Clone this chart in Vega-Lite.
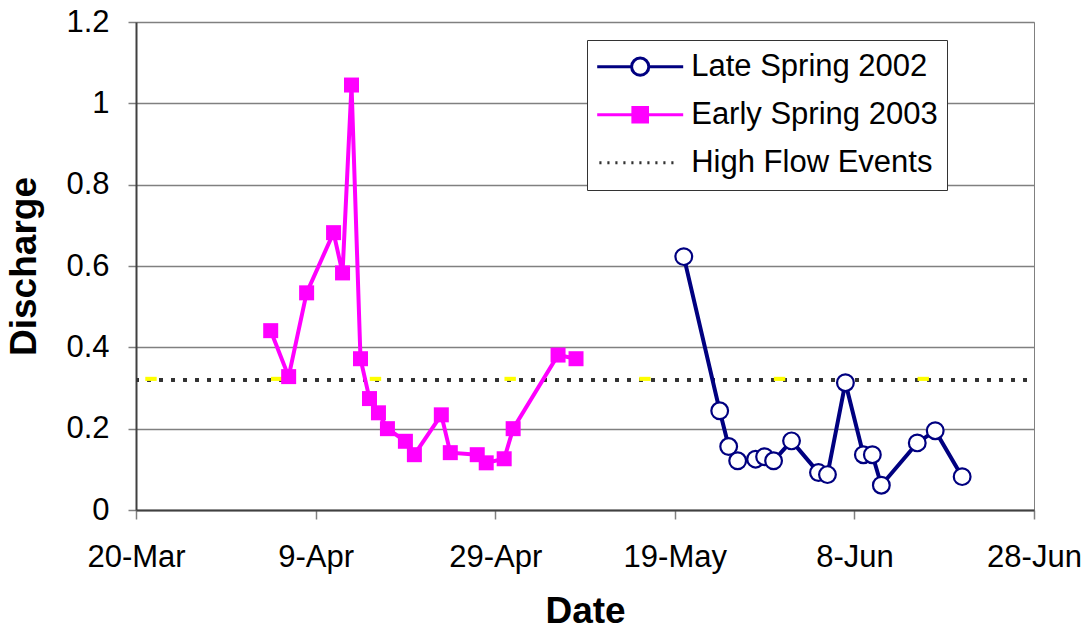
{
  "$schema": "https://vega.github.io/schema/vega-lite/v6.json",
  "width": 898,
  "height": 488,
  "autosize": {"type": "none"},
  "padding": {"left": 136, "top": 22, "right": 55, "bottom": 121},
  "background": "white",
  "config": {
    "font": "Liberation Sans",
    "view": {"stroke": "#808080", "strokeWidth": 1}
  },
  "data": {
    "values": [
      {"series": "Early Spring 2003", "date": "2003-04-04T00:00", "value": 0.441},
      {"series": "Early Spring 2003", "date": "2003-04-06T00:00", "value": 0.328},
      {"series": "Early Spring 2003", "date": "2003-04-08T00:00", "value": 0.534},
      {"series": "Early Spring 2003", "date": "2003-04-11T00:00", "value": 0.682},
      {"series": "Early Spring 2003", "date": "2003-04-12T00:00", "value": 0.583},
      {"series": "Early Spring 2003", "date": "2003-04-13T00:00", "value": 1.045},
      {"series": "Early Spring 2003", "date": "2003-04-14T00:00", "value": 0.372},
      {"series": "Early Spring 2003", "date": "2003-04-15T00:00", "value": 0.274},
      {"series": "Early Spring 2003", "date": "2003-04-16T00:00", "value": 0.239},
      {"series": "Early Spring 2003", "date": "2003-04-17T00:00", "value": 0.2},
      {"series": "Early Spring 2003", "date": "2003-04-19T00:00", "value": 0.169},
      {"series": "Early Spring 2003", "date": "2003-04-20T00:00", "value": 0.136},
      {"series": "Early Spring 2003", "date": "2003-04-23T00:00", "value": 0.234},
      {"series": "Early Spring 2003", "date": "2003-04-24T00:00", "value": 0.141},
      {"series": "Early Spring 2003", "date": "2003-04-27T00:00", "value": 0.136},
      {"series": "Early Spring 2003", "date": "2003-04-28T00:00", "value": 0.116},
      {"series": "Early Spring 2003", "date": "2003-04-30T00:00", "value": 0.126},
      {"series": "Early Spring 2003", "date": "2003-05-01T00:00", "value": 0.2},
      {"series": "Early Spring 2003", "date": "2003-05-06T00:00", "value": 0.381},
      {"series": "Early Spring 2003", "date": "2003-05-08T00:00", "value": 0.372},
      {"series": "Late Spring 2002", "date": "2003-05-20T00:00", "value": 0.623},
      {"series": "Late Spring 2002", "date": "2003-05-24T00:00", "value": 0.244},
      {"series": "Late Spring 2002", "date": "2003-05-25T00:00", "value": 0.156},
      {"series": "Late Spring 2002", "date": "2003-05-26T00:00", "value": 0.121},
      {"series": "Late Spring 2002", "date": "2003-05-28T00:00", "value": 0.125},
      {"series": "Late Spring 2002", "date": "2003-05-29T00:00", "value": 0.131},
      {"series": "Late Spring 2002", "date": "2003-05-30T00:00", "value": 0.121},
      {"series": "Late Spring 2002", "date": "2003-06-01T00:00", "value": 0.17},
      {"series": "Late Spring 2002", "date": "2003-06-04T00:00", "value": 0.092},
      {"series": "Late Spring 2002", "date": "2003-06-05T00:00", "value": 0.087},
      {"series": "Late Spring 2002", "date": "2003-06-07T00:00", "value": 0.313},
      {"series": "Late Spring 2002", "date": "2003-06-09T00:00", "value": 0.136},
      {"series": "Late Spring 2002", "date": "2003-06-10T00:00", "value": 0.136},
      {"series": "Late Spring 2002", "date": "2003-06-11T00:00", "value": 0.061},
      {"series": "Late Spring 2002", "date": "2003-06-15T00:00", "value": 0.165},
      {"series": "Late Spring 2002", "date": "2003-06-17T00:00", "value": 0.195},
      {"series": "Late Spring 2002", "date": "2003-06-20T00:00", "value": 0.082},
      {"series": "High Flow Events", "date": "2003-03-21T16:00", "value": 0.32},
      {"series": "High Flow Events", "date": "2003-04-04T16:00", "value": 0.32},
      {"series": "High Flow Events", "date": "2003-04-15T16:00", "value": 0.32},
      {"series": "High Flow Events", "date": "2003-04-30T16:00", "value": 0.32},
      {"series": "High Flow Events", "date": "2003-05-15T16:00", "value": 0.32},
      {"series": "High Flow Events", "date": "2003-05-30T16:00", "value": 0.32},
      {"series": "High Flow Events", "date": "2003-06-15T16:00", "value": 0.32}
    ]
  },
  "encoding": {
    "y": {
      "field": "value",
      "type": "quantitative",
      "scale": {"domain": [0, 1.2], "nice": false, "zero": true},
      "axis": {
        "title": "Discharge",
        "values": [0, 0.2, 0.4, 0.6, 0.8, 1, 1.2],
        "format": "~g",
        "labelFont": "Liberation Sans",
        "labelFontSize": 31,
        "labelColor": "#000000",
        "labelPadding": 19,
        "tickSize": 8,
        "tickColor": "#808080",
        "tickWidth": 1.5,
        "domainColor": "#404040",
        "domainWidth": 2,
        "grid": true,
        "gridColor": "#808080",
        "gridWidth": 1.3,
        "titleFont": "Liberation Sans",
        "titleFontSize": 37,
        "titleFontWeight": "bold",
        "titleColor": "#000000",
        "titlePadding": 22
      }
    }
  },
  "layer": [
    {
      "transform": [{"filter": "datum.series === 'High Flow Events'"}],
      "mark": {"type": "rule", "stroke": "#333333", "strokeWidth": 3.3, "strokeDash": [3.3, 8.7], "strokeDashOffset": 4.7},
      "encoding": {}
    },
    {
      "transform": [{"filter": "datum.series === 'High Flow Events'"}],
      "mark": {"type": "point", "shape": "M-1,-0.36H1V0.36H-1Z", "size": 130, "filled": true, "fill": "#FFFF00", "strokeWidth": 0, "opacity": 1, "yOffset": -1},
      "encoding": {
        "x": {
          "field": "date", "type": "temporal",
          "scale": {"domain": [{"year": 2003, "month": "March", "date": 20}, {"year": 2003, "month": "June", "date": 28}]},
          "axis": {
            "title": "Date",
            "values": [
              {"year": 2003, "month": "March", "date": 20},
              {"year": 2003, "month": "April", "date": 9},
              {"year": 2003, "month": "April", "date": 29},
              {"year": 2003, "month": "May", "date": 19},
              {"year": 2003, "month": "June", "date": 8},
              {"year": 2003, "month": "June", "date": 28}
            ],
            "format": "%-d-%b",
            "labelFont": "Liberation Sans",
            "labelFontSize": 31,
            "labelColor": "#000000",
            "labelPadding": 23,
            "labelFlush": false,
            "labelOverlap": false,
            "labelBound": false,
            "tickSize": 9,
            "tickColor": "#808080",
            "tickWidth": 1.5,
            "domainColor": "#404040",
            "domainWidth": 2,
            "grid": false,
            "titleFont": "Liberation Sans",
            "titleFontSize": 37,
            "titleFontWeight": "bold",
            "titleColor": "#000000",
            "titlePadding": 21
          }
        }
      }
    },
    {
      "transform": [{"filter": "datum.series !== 'High Flow Events'"}],
      "mark": {"type": "line", "strokeWidth": 4},
      "encoding": {
        "x": {"field": "date", "type": "temporal"},
        "color": {
          "field": "series", "type": "nominal",
          "scale": {"domain": ["Late Spring 2002", "Early Spring 2003"], "range": ["#000080", "#FF00FF"]},
          "legend": null
        }
      }
    },
    {
      "transform": [{"filter": "datum.series === 'Late Spring 2002'"}],
      "mark": {"type": "point", "shape": "circle", "size": 280, "filled": true, "fill": "#FFFFFF", "stroke": "#000080", "strokeWidth": 2.2, "opacity": 1},
      "encoding": {"x": {"field": "date", "type": "temporal"}}
    },
    {
      "transform": [{"filter": "datum.series === 'Early Spring 2003'"}],
      "mark": {"type": "point", "shape": "square", "size": 225, "filled": true, "fill": "#FF00FF", "strokeWidth": 0, "opacity": 1},
      "encoding": {"x": {"field": "date", "type": "temporal"}}
    },
    {
      "mark": {"type": "point", "filled": true, "opacity": 0},
      "encoding": {
        "x": {"field": "date", "type": "temporal"},
        "stroke": {
          "field": "series", "type": "nominal",
          "scale": {"domain": ["Late Spring 2002", "Early Spring 2003", "High Flow Events"], "range": ["#000080", "#FF00FF", "#333333"]},
          "legend": {
            "title": null, "orient": "none", "legendX": 451, "legendY": 18, "direction": "vertical",
            "fillColor": "#FFFFFF", "strokeColor": "#333333", "padding": 8.7, "clipHeight": 36,
            "symbolSize": 7396, "symbolStrokeWidth": 3, "symbolOpacity": 1, "symbolOffset": 0,
            "labelFont": "Liberation Sans", "labelFontSize": 31, "labelColor": "#000000", "labelOffset": 6.5, "labelLimit": 400,
            "rowPadding": 12
          }
        },
        "fill": {
          "field": "series", "type": "nominal",
          "scale": {"domain": ["Late Spring 2002", "Early Spring 2003", "High Flow Events"], "range": ["#FFFFFF", "#FF00FF", "#333333"]},
          "legend": {
            "title": null, "orient": "none", "legendX": 451, "legendY": 18, "direction": "vertical",
            "fillColor": "#FFFFFF", "strokeColor": "#333333", "padding": 8.7, "clipHeight": 36,
            "symbolSize": 7396, "symbolStrokeWidth": 3, "symbolOpacity": 1, "symbolOffset": 0,
            "labelFont": "Liberation Sans", "labelFontSize": 31, "labelColor": "#000000", "labelOffset": 6.5, "labelLimit": 400,
            "rowPadding": 12
          }
        },
        "shape": {
          "field": "series", "type": "nominal",
          "scale": {
            "domain": ["Late Spring 2002", "Early Spring 2003", "High Flow Events"],
            "range": [
              "M-1,0H-0.2M0.2,0H1M-0.2,0A0.2,0.2 0 1,0 0.2,0A0.2,0.2 0 1,0 -0.2,0Z",
              "M-1,0H1M-0.17,-0.17H0.17V0.17H-0.17Z",
              "M-0.95,0h0.05M-0.764,0h0.05M-0.578,0h0.05M-0.392,0h0.05M-0.206,0h0.05M-0.02,0h0.05M0.166,0h0.05M0.352,0h0.05M0.538,0h0.05M0.724,0h0.05"
            ]
          },
          "legend": {
            "title": null, "orient": "none", "legendX": 451, "legendY": 18, "direction": "vertical",
            "fillColor": "#FFFFFF", "strokeColor": "#333333", "padding": 8.7, "clipHeight": 36,
            "symbolSize": 7396, "symbolStrokeWidth": 3, "symbolOpacity": 1, "symbolOffset": 0,
            "labelFont": "Liberation Sans", "labelFontSize": 31, "labelColor": "#000000", "labelOffset": 6.5, "labelLimit": 400,
            "rowPadding": 12
          }
        }
      }
    }
  ]
}
